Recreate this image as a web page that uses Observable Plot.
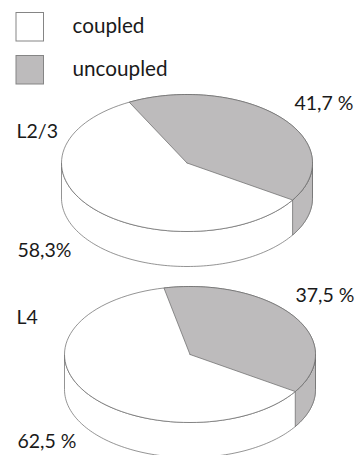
<!DOCTYPE html>
<html>
<head>
<meta charset="utf-8">
<style>
  html, body { margin: 0; padding: 0; background: #fff; overflow: hidden; }
  svg { display: block; }
</style>
<script src="https://cdn.jsdelivr.net/npm/d3@7"></script>
<script src="https://cdn.jsdelivr.net/npm/@observablehq/plot@0.6"></script>
</head>
<body>
<div id="chart"></div>
<script>
// Share of cell pairs in each cortical layer, in percent
const layers = ["L2/3", "L4"];
const coupled = [58.3, 62.5];
const uncoupled = [41.7, 37.5];
const coupledLabels = ["58,3%", "62,5 %"];
const uncoupledLabels = ["41,7 %", "37,5 %"];
const legendNames = ["coupled", "uncoupled"];

// Disc layout: centre, radii, wall depth and where the uncoupled slice begins
const discs = [
  {cx: 186.5, cy: 162.5, rx: 125.5, ry: 68.5, depth: 35, start: -27.4},
  {cx: 189.5, cy: 354, rx: 125.5, ry: 68, depth: 35, start: -12}
];

const GREY = "#bdbbbc";
const EDGE = "#666666";
const INK = "#1a1a1a";
const FONT = "Lato, sans-serif";

// Point on a disc's rim, angle in degrees clockwise from the top
const rim = (d, deg, drop = 0) => {
  const a = deg * Math.PI / 180;
  return {x: d.cx + d.rx * Math.sin(a), y: d.cy - d.ry * Math.cos(a) + drop};
};
const arc = (d, from, to, drop = 0) =>
  d3.range(0, 121).map(i => rim(d, from + (to - from) * i / 120, drop));

const shape = (pts, fill, stroke = EDGE) =>
  Plot.line(pts, {x: "x", y: "y", fill, stroke, strokeWidth: 0.7, strokeLinejoin: "round"});

// One tilted pie: wall first, then the top face with its slice
function discMarks(d, share) {
  const end = d.start + share * 3.6;
  const wall = [...arc(d, 90, 270), ...arc(d, 270, 90, d.depth), rim(d, 90)];
  const greyWall = [...arc(d, 90, end), ...arc(d, end, 90, d.depth), rim(d, 90)];
  const face = arc(d, 0, 360);
  const wedge = [{x: d.cx, y: d.cy}, ...arc(d, d.start, end), {x: d.cx, y: d.cy}];
  return [
    shape(wall, "#ffffff"),
    shape(greyWall, GREY),
    shape(face, "#ffffff"),
    shape(wedge, GREY)
  ];
}

const legendRows = legendNames.map((name, i) => ({
  name,
  fill: i === 0 ? "#ffffff" : GREY,
  y1: [12.5, 55.5][i],
  y2: [41, 84][i],
  yText: [26, 69][i]
}));

const labelRows = [
  {text: layers[0], x: 16, y: 131.5},
  {text: layers[1], x: 16, y: 317},
  {text: uncoupledLabels[0], x: 294, y: 103.5},
  {text: uncoupledLabels[1], x: 295, y: 295},
  {text: coupledLabels[0], x: 17, y: 250},
  {text: coupledLabels[1], x: 17, y: 441}
];

const textStyle = {
  textAnchor: "start", lineAnchor: "middle",
  fontFamily: FONT, fill: INK
};

const chart = Plot.plot({
  width: 357,
  height: 455,
  margin: 0,
  clip: true,
  x: {domain: [0, 357], range: [0, 357], axis: null},
  y: {domain: [0, 455], range: [0, 455], axis: null},
  marks: [
    Plot.rect(legendRows, {x1: () => 16, x2: () => 43.5, y1: "y1", y2: "y2", fill: "fill", stroke: "#858585", strokeWidth: 1}),
    Plot.text(legendRows, {x: () => 72, y: "yText", text: "name", ...textStyle, fontSize: 20.7}),
    ...discs.flatMap((d, i) => discMarks(d, uncoupled[i])),
    Plot.text(labelRows, {x: "x", y: "y", text: "text", ...textStyle, fontSize: 19.5})
  ]
});
document.getElementById("chart").append(chart);
</script>
</body>
</html>
